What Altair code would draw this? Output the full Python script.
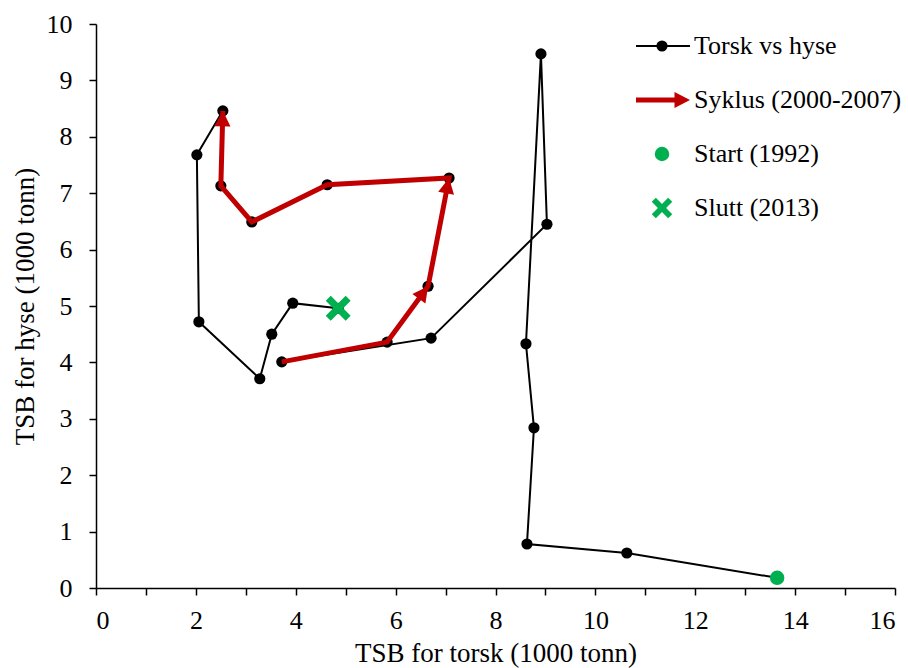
import math
import altair as alt
import pandas as pd

# Yearly total stock biomass (1000 tonn), 1992-2013
years = list(range(1992, 2014))
torsk = [13.64, 10.63, 8.63, 8.77, 8.61, 8.91, 9.03, 6.71, 3.72, 5.83, 6.65,
         7.07, 4.63, 3.12, 2.50, 2.54, 2.02, 2.06, 3.28, 3.52, 3.94, 4.85]
hyse = [0.18, 0.62, 0.78, 2.84, 4.33, 9.47, 6.45, 4.43, 4.01, 4.36, 5.35,
        7.27, 7.15, 6.49, 7.13, 8.46, 7.68, 4.72, 3.71, 4.50, 5.05, 4.96]
cycle_start, cycle_end = 2000, 2007
arrow_years = [2002, 2003, 2007]
legend_labels = ["Torsk vs hyse", "Syklus (2000-2007)", "Start (1992)", "Slutt (2013)"]

W, H = 799, 564
X_MAX, Y_MAX = 16, 10
FONT = "'Liberation Serif', 'Times New Roman', serif"
RED = "#C00000"
GREEN = "#00B050"

df = pd.DataFrame({"year": years, "torsk": torsk, "hyse": hyse})
cycle = df[(df.year >= cycle_start) & (df.year <= cycle_end)]

# arrowheads: tip at the segment end, rotated along the segment in screen space
rows = []
for yr in arrow_years:
    i = years.index(yr)
    dx = (torsk[i] - torsk[i - 1]) * W / X_MAX
    dy = (hyse[i] - hyse[i - 1]) * H / Y_MAX
    ang = math.degrees(math.atan2(dx, dy)) % 360
    rows.append({"torsk": torsk[i], "hyse": hyse[i], "angle": ang})
arrows = pd.DataFrame(rows)

ARROW = "M0,0L0.7,1.35L-0.7,1.35Z"
XMARK = ("M-1,-0.6L-0.6,-1L0,-0.4L0.6,-1L1,-0.6L0.4,0L1,0.6L0.6,1L0,0.4"
         "L-0.6,1L-1,0.6L-0.4,0Z")

xs = alt.Scale(domain=[0, X_MAX], nice=False, zero=True)
ys = alt.Scale(domain=[0, Y_MAX], nice=False, zero=True)

axis_style = dict(
    grid=False, tickSize=7, tickWidth=1.5, tickColor="black",
    domainColor="black", domainWidth=1.5,
    labelFont=FONT, labelFontSize=26, labelColor="black",
    titleFont=FONT, titleFontSize=27, titleColor="black", titleFontWeight="normal",
    labelOverlap=False,
)
x_axis = alt.Axis(
    values=list(range(0, 17)),
    labelExpr="datum.value % 2 == 0 ? format(datum.value, 'd') : ''",
    title="TSB for torsk (1000 tonn)",
    labelPadding=12,
    titleBaseline="alphabetic", titleY=73,
    **axis_style,
)
y_axis = alt.Axis(
    values=[v / 2 for v in range(0, 21)],
    labelExpr="datum.value % 1 == 0 ? format(datum.value, 'd') : ''",
    title="TSB for hyse (1000 tonn)",
    labelPadding=17, labelBaseline="middle",
    titleAngle=270, titleBaseline="alphabetic", titleX=-63, titleY=H / 2,
    **axis_style,
)

X = alt.X("torsk:Q", scale=xs, axis=x_axis)
Y = alt.Y("hyse:Q", scale=ys, axis=y_axis)
Xn = alt.X("torsk:Q", scale=xs)
Yn = alt.Y("hyse:Q", scale=ys)

base = alt.Chart(df)
path = base.mark_line(color="black", strokeWidth=2).encode(x=X, y=Y, order="year:O")
dots = base.mark_point(filled=True, color="black", size=125, opacity=1).encode(x=Xn, y=Yn)
red = alt.Chart(cycle).mark_line(color=RED, strokeWidth=5, strokeJoin="miter").encode(
    x=Xn, y=Yn, order="year:O")
heads = alt.Chart(arrows).mark_point(
    shape=ARROW, filled=True, color=RED, size=529, opacity=1, strokeWidth=0
).encode(x=Xn, y=Yn, angle=alt.Angle("angle:Q", scale=None))
start = alt.Chart(df[df.year == years[0]]).mark_point(
    filled=True, color=GREEN, size=210, opacity=1).encode(x=Xn, y=Yn)
end = alt.Chart(df[df.year == years[-1]]).mark_point(
    shape=XMARK, filled=True, color=GREEN, size=620, opacity=1, strokeWidth=0
).encode(x=Xn, y=Yn)

# legend, drawn inside the plot area at the upper right
one = alt.Chart(pd.DataFrame({"k": [0]}))
LX0, LX1, LXM, LXT = 540, 594, 566, 598
LY = [22 + 54 * i for i in range(4)]
leg = [
    one.mark_rule(color="black", strokeWidth=2).encode(
        x=alt.value(LX0), x2=alt.value(LX1), y=alt.value(LY[0])),
    one.mark_point(filled=True, color="black", size=125, opacity=1).encode(
        x=alt.value(LXM), y=alt.value(LY[0])),
    one.mark_rule(color=RED, strokeWidth=5).encode(
        x=alt.value(LX0), x2=alt.value(LX1 - 14), y=alt.value(LY[1])),
    one.mark_point(shape=ARROW, filled=True, color=RED, size=529, opacity=1,
                   strokeWidth=0, angle=90).encode(
        x=alt.value(LX1), y=alt.value(LY[1])),
    one.mark_point(filled=True, color=GREEN, size=210, opacity=1).encode(
        x=alt.value(LXM), y=alt.value(LY[2])),
    one.mark_point(shape=XMARK, filled=True, color=GREEN, size=420, opacity=1,
                   strokeWidth=0).encode(
        x=alt.value(LXM), y=alt.value(LY[3])),
]
for lab, yy in zip(legend_labels, LY):
    leg.append(one.mark_text(align="left", baseline="middle", font=FONT,
                             fontSize=26, color="black", text=lab).encode(
        x=alt.value(LXT), y=alt.value(yy)))

chart = alt.layer(path, dots, red, heads, start, end, *leg).properties(
    width=W, height=H,
    autosize=alt.AutoSizeParams(type="none"),
    padding={"left": 96, "top": 24, "right": 13, "bottom": 80},
).configure_view(stroke=None)

chart.save("out.html", embed_options={"renderer": "svg", "actions": False})
